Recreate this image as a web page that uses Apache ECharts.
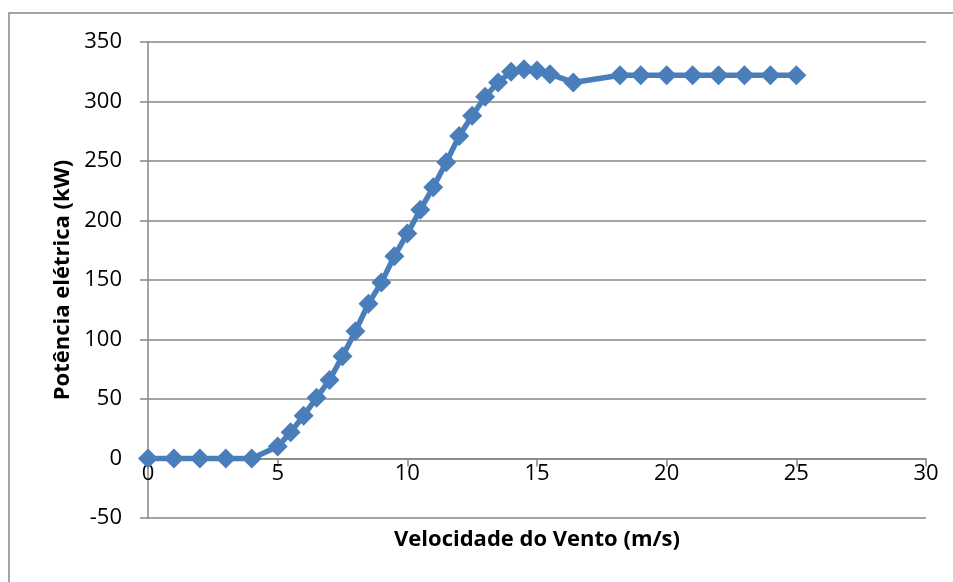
<!DOCTYPE html>
<html>
<head>
<meta charset="utf-8">
<script src="https://cdn.jsdelivr.net/npm/echarts@6/dist/echarts.min.js"></script>
<style>
  html, body { margin: 0; padding: 0; background: #fff; }
  #chart { width: 953px; height: 582px; }
</style>
</head>
<body>
<div id="chart"></div>
<script>
// Wind speed (m/s) and electrical power output (kW) of the turbine power curve
const windSpeed = [0, 1, 2, 3, 4, 5, 5.5, 6, 6.5, 7, 7.5, 8, 8.5, 9, 9.5, 10, 10.5, 11, 11.5, 12,
  12.5, 13, 13.5, 14, 14.5, 15, 15.5, 16.4, 18.2, 19, 20, 21, 22, 23, 24, 25];
const power = [0, 0, 0, 0, 0, 10, 22, 36, 51, 66, 86, 107, 130, 148, 170, 189, 209, 228, 249, 271,
  288, 304, 316, 325, 327, 326, 323, 316, 322, 322, 322, 322, 322, 322, 322, 322];
const xTicks = { min: 0, max: 30, interval: 5 };
const yTicks = { min: -50, max: 350, interval: 50 };

const FONT = '"Open Sans", "Liberation Sans", sans-serif';
const AXIS_GREY = '#878787';
const LINE_BLUE = '#4a7ebb';

// Plot area in pixels
const PLOT = { left: 148, right: 27, top: 42, bottom: 64 };
// The category axis crosses the value axis at y = 0: a second grid whose bottom
// edge sits on that line carries the x axis line, ticks and labels.
const plotHeight = 582 - PLOT.top - PLOT.bottom;
const zeroFromBottom = PLOT.bottom + plotHeight * (0 - yTicks.min) / (yTicks.max - yTicks.min);

const chart = echarts.init(document.getElementById('chart'), null, { renderer: 'canvas' });

chart.setOption({
  animation: false,
  backgroundColor: '#ffffff',
  grid: [
    { left: PLOT.left, right: PLOT.right, top: PLOT.top, bottom: PLOT.bottom },
    { left: PLOT.left, right: PLOT.right, top: PLOT.top, bottom: zeroFromBottom }
  ],
  xAxis: [
    {
      gridIndex: 0, type: 'value',
      min: xTicks.min, max: xTicks.max, interval: xTicks.interval,
      axisLine: { show: false }, axisTick: { show: false }, axisLabel: { show: false },
      splitLine: { show: false }
    },
    {
      gridIndex: 1, type: 'value',
      min: xTicks.min, max: xTicks.max, interval: xTicks.interval,
      axisLine: { show: true, onZero: false, lineStyle: { color: AXIS_GREY, width: 1.5 } },
      axisTick: { show: true, inside: false, length: 8, lineStyle: { color: AXIS_GREY, width: 1.5 } },
      axisLabel: { color: '#000', fontSize: 22, fontFamily: FONT, margin: 4 },
      splitLine: { show: false }
    }
  ],
  yAxis: [
    {
      gridIndex: 0, type: 'value',
      min: yTicks.min, max: yTicks.max, interval: yTicks.interval,
      name: 'Potência elétrica (kW)',
      nameLocation: 'middle',
      nameGap: 73,
      nameTextStyle: { color: '#000', fontSize: 22, fontWeight: 'bold', fontFamily: FONT },
      axisLine: { show: true, lineStyle: { color: AXIS_GREY, width: 1.5 } },
      axisTick: { show: true, inside: false, length: 8, lineStyle: { color: AXIS_GREY, width: 1.5 } },
      axisLabel: { color: '#000', fontSize: 22, fontFamily: FONT, margin: 26 },
      splitLine: { show: true, lineStyle: { color: AXIS_GREY, width: 1.5 } }
    },
    {
      gridIndex: 1, type: 'value', min: 0, max: 1,
      axisLine: { show: false }, axisTick: { show: false }, axisLabel: { show: false },
      splitLine: { show: false }
    }
  ],
  graphic: [
    {
      type: 'rect',
      shape: { x: 9, y: 13, width: 960, height: 600 },
      style: { fill: 'none', stroke: '#868686', lineWidth: 1.5 },
      silent: true,
      z: -1
    },
    {
      type: 'text',
      x: 537, y: 540,
      style: {
        text: 'Velocidade do Vento (m/s)',
        fill: '#000', font: 'bold 22px ' + FONT,
        align: 'center', verticalAlign: 'middle'
      }
    }
  ],
  series: [{
    type: 'line',
    xAxisIndex: 0, yAxisIndex: 0,
    data: windSpeed.map((v, i) => [v, power[i]]),
    symbol: 'diamond',
    symbolSize: 20,
    lineStyle: { color: LINE_BLUE, width: 5.5 },
    itemStyle: { color: LINE_BLUE },
    clip: false,
    z: 5
  }]
});
</script>
</body>
</html>
